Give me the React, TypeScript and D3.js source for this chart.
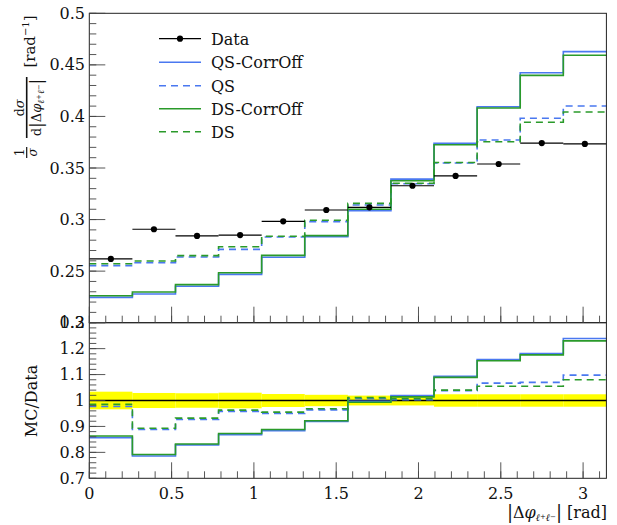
import React from "react";
import * as d3 from "d3";

const W = 617;
const H = 525;
const NBINS = 12;
const X_MAX = Math.PI;

const dataVals = [0.2618, 0.2906, 0.2841, 0.2850, 0.2983, 0.3093, 0.3119, 0.3328, 0.3423, 0.3539, 0.3742, 0.3733];
const qsCorrOff = [0.2246, 0.2278, 0.2353, 0.2469, 0.2634, 0.2834, 0.3086, 0.3392, 0.3740, 0.4094, 0.4424, 0.4628];
const qs = [0.2553, 0.2582, 0.2637, 0.2711, 0.2831, 0.2980, 0.3141, 0.3348, 0.3548, 0.3772, 0.3982, 0.4101];
const dsCorrOff = [0.2262, 0.2298, 0.2369, 0.2485, 0.2653, 0.2844, 0.3100, 0.3376, 0.3726, 0.4082, 0.4398, 0.4593];
const ds = [0.2572, 0.2598, 0.2650, 0.2737, 0.2838, 0.2993, 0.3157, 0.3352, 0.3553, 0.3755, 0.3943, 0.4043];

const qsCorrOffR = [0.857, 0.786, 0.829, 0.868, 0.884, 0.919, 0.997, 1.019, 1.093, 1.158, 1.181, 1.239];
const qsR = [0.977, 0.888, 0.927, 0.958, 0.950, 0.964, 1.007, 1.003, 1.038, 1.067, 1.070, 1.098];
const dsCorrOffR = [0.863, 0.792, 0.832, 0.873, 0.888, 0.922, 0.993, 1.014, 1.089, 1.153, 1.176, 1.230];
const dsR = [0.985, 0.893, 0.932, 0.963, 0.955, 0.968, 1.011, 1.007, 1.040, 1.055, 1.055, 1.080];
const bandErr = [0.034, 0.029, 0.028, 0.030, 0.025, 0.022, 0.019, 0.019, 0.024, 0.024, 0.024, 0.024];

const xTicks = [0, 0.5, 1, 1.5, 2, 2.5, 3];
const xTickLabels = ["0", "0.5", "1", "1.5", "2", "2.5", "3"];
const mainYTicks = [0.2, 0.25, 0.3, 0.35, 0.4, 0.45, 0.5];
const mainYLabels = ["0.2", "0.25", "0.3", "0.35", "0.4", "0.45", "0.5"];
const ratioYTicks = [0.7, 0.8, 0.9, 1.0, 1.1, 1.2, 1.3];
const ratioYLabels = ["0.7", "0.8", "0.9", "1", "1.1", "1.2", "1.3"];

const legendNames = ["Data", "QS-CorrOff", "QS", "DS-CorrOff", "DS"];

const BLUE = "#4a78f0";
const GREEN = "#2a9a2a";
const FONT = "DejaVu Serif";

const L = 89.3, R = 606.4, TOP = 13.3, MID = 322.7, BOT = 478.3;

export default function App() {
  const edges = d3.range(NBINS + 1).map((i) => (i * X_MAX) / NBINS);
  const x = d3.scaleLinear().domain([0, X_MAX]).range([L, R]);
  const y = d3.scaleLinear().domain([0.2, 0.5]).range([MID, TOP]);
  const yr = d3.scaleLinear().domain([0.7, 1.3]).range([BOT, MID]);

  const stepPath = (vals: number[], ys: d3.ScaleLinear<number, number>) => {
    const pts: [number, number][] = vals.map((v, i) => [edges[i], v]);
    pts.push([edges[NBINS], vals[NBINS - 1]]);
    return d3
      .line<[number, number]>()
      .x((d) => x(d[0]))
      .y((d) => ys(d[1]))
      .curve(d3.curveStepAfter)(pts) as string;
  };

  const series = [
    { m: qsCorrOff, r: qsCorrOffR, color: BLUE, dash: undefined },
    { m: qs, r: qsR, color: BLUE, dash: "7 5" },
    { m: dsCorrOff, r: dsCorrOffR, color: GREEN, dash: undefined },
    { m: ds, r: dsR, color: GREEN, dash: "7 5" },
  ];

  const minorX = d3.range(0, 3.15, 0.1);
  const minorMain = d3.range(0.2, 0.5001, 0.01);
  const minorRatio = d3.range(0.7, 1.3001, 0.02);

  const tickColor = "#444";
  const legendRows = [38.7, 62.3, 85.7, 108.7, 131.7];

  return (
    <svg width={W} height={H} style={{ position: "absolute", left: 0, top: 0, background: "#fff" }} fontFamily={FONT}>
      <rect x={0} y={0} width={W} height={H} fill="#fff" />
      {/* ratio band */}
      {bandErr.map((e, i) => (
        <rect key={"b" + i} x={x(edges[i])} width={x(edges[i + 1]) - x(edges[i])} y={yr(1 + e)} height={yr(1 - e) - yr(1 + e)} fill="#ffff00" />
      ))}
      <line x1={L} x2={R} y1={yr(1)} y2={yr(1)} stroke="#000" strokeWidth={1.6} />

      {/* series */}
      {series.map((s, i) => (
        <g key={"s" + i}>
          <path d={stepPath(s.m, y)} fill="none" stroke={s.color} strokeWidth={1.6} strokeDasharray={s.dash} />
          <path d={stepPath(s.r, yr)} fill="none" stroke={s.color} strokeWidth={1.6} strokeDasharray={s.dash} />
        </g>
      ))}

      {/* data */}
      {dataVals.map((v, i) => (
        <g key={"d" + i}>
          <line x1={x(edges[i])} x2={x(edges[i + 1])} y1={y(v)} y2={y(v)} stroke="#000" strokeWidth={1.2} />
          <circle cx={x((edges[i] + edges[i + 1]) / 2)} cy={y(v)} r={3.1} fill="#000" />
        </g>
      ))}

      {/* frames */}
      <rect x={L} y={TOP} width={R - L} height={MID - TOP} fill="none" stroke="#222" strokeWidth={1} />
      <rect x={L} y={MID} width={R - L} height={BOT - MID} fill="none" stroke="#222" strokeWidth={1} />

      {/* ticks main */}
      {minorMain.map((t, i) => (
        <line key={"mm" + i} x1={L} x2={L + 7} y1={y(t)} y2={y(t)} stroke={tickColor} strokeWidth={0.9} />
      ))}
      {mainYTicks.map((t, i) => (
        <line key={"Mm" + i} x1={L} x2={L + 16} y1={y(t)} y2={y(t)} stroke={tickColor} strokeWidth={0.9} />
      ))}
      {minorX.map((t, i) => (
        <g key={"mx" + i}>
          <line x1={x(t)} x2={x(t)} y1={MID} y2={MID - 7} stroke={tickColor} strokeWidth={0.9} />
          <line x1={x(t)} x2={x(t)} y1={BOT} y2={BOT - 7} stroke={tickColor} strokeWidth={0.9} />
        </g>
      ))}
      {xTicks.map((t, i) => (
        <g key={"Mx" + i}>
          <line x1={x(t)} x2={x(t)} y1={MID} y2={MID - 16} stroke={tickColor} strokeWidth={0.9} />
          <line x1={x(t)} x2={x(t)} y1={BOT} y2={BOT - 16} stroke={tickColor} strokeWidth={0.9} />
          <text x={x(t)} y={499} textAnchor="middle" fontSize={16} fill="#111">{xTickLabels[i]}</text>
        </g>
      ))}
      {minorRatio.map((t, i) => (
        <line key={"mr" + i} x1={L} x2={L + 7} y1={yr(t)} y2={yr(t)} stroke={tickColor} strokeWidth={0.9} />
      ))}
      {ratioYTicks.map((t, i) => (
        <line key={"Mr" + i} x1={L} x2={L + 16} y1={yr(t)} y2={yr(t)} stroke={tickColor} strokeWidth={0.9} />
      ))}

      {/* y tick labels */}
      {mainYTicks.map((t, i) => (
        <text key={"ml" + i} x={85} y={y(t) + 5.5} textAnchor="end" fontSize={16} fill="#111">{mainYLabels[i]}</text>
      ))}
      {ratioYTicks.map((t, i) => (
        <text key={"rl" + i} x={85} y={yr(t) + 5.5} textAnchor="end" fontSize={16} fill="#111">{ratioYLabels[i]}</text>
      ))}

      {/* legend */}
      {legendNames.map((name, i) => {
        const ly = legendRows[i];
        const s = i === 0 ? null : series[i - 1];
        return (
          <g key={"lg" + i}>
            <line x1={159} x2={201} y1={ly} y2={ly} stroke={s ? s.color : "#000"} strokeWidth={s ? 1.6 : 1.2} strokeDasharray={s ? s.dash : undefined} />
            {i === 0 && <circle cx={180} cy={ly} r={3.1} fill="#000" />}
            <text x={211} y={ly + 5.8} fontSize={16} fill="#111">{name}</text>
          </g>
        );
      })}

      {/* y axis label main */}
      <g transform="translate(26.7,0) rotate(-90)" fill="#111">
        <line x1={-158} x2={-147} y1={0} y2={0} stroke="#111" strokeWidth={1.2} />
        <text x={-152.5} y={-2.5} textAnchor="middle" fontSize={12}>1</text>
        <text x={-152.5} y={10} textAnchor="middle" fontSize={12} fontStyle="italic">σ</text>
        <line x1={-138} x2={-77} y1={0} y2={0} stroke="#111" strokeWidth={1.6} />
        <text x={-108} y={-3} textAnchor="middle" fontSize={13}>d<tspan fontStyle="italic">σ</tspan></text>
        <text x={-107.5} y={14} textAnchor="middle" fontSize={13}>
          d<tspan fontSize={17} dy={1}>|</tspan><tspan dy={-1}>Δ</tspan><tspan fontStyle="italic">φ</tspan>
          <tspan fontSize={9} dy={3} fontStyle="italic">ℓ</tspan><tspan fontSize={7} dy={-3}>+</tspan>
          <tspan fontSize={9} dy={3} fontStyle="italic">ℓ</tspan><tspan fontSize={7} dy={-3}>−</tspan>
          <tspan fontSize={17} dy={1}>|</tspan>
        </text>
        <text x={-41.5} y={8.5} textAnchor="middle" fontSize={15}>
          [rad<tspan fontSize={10} dy={-6}>−1</tspan><tspan dy={6}>]</tspan>
        </text>
      </g>

      {/* ratio y label */}
      <text transform="translate(37,401) rotate(-90)" textAnchor="middle" fontSize={16} fill="#111">MC/Data</text>

      {/* x label */}
      <text x={607} y={518} textAnchor="end" fontSize={16} fill="#111">
        <tspan fontSize={18}>|</tspan>Δ<tspan fontStyle="italic">φ</tspan>
        <tspan fontSize={10} dy={3} fontStyle="italic">ℓ</tspan><tspan fontSize={7} dy={-2}>+</tspan>
        <tspan fontSize={10} dy={2} fontStyle="italic">ℓ</tspan><tspan fontSize={7} dy={-2}>−</tspan>
        <tspan fontSize={18} dy={-1}>|</tspan><tspan>{"  "}</tspan>[rad]
      </text>
    </svg>
  );
}
